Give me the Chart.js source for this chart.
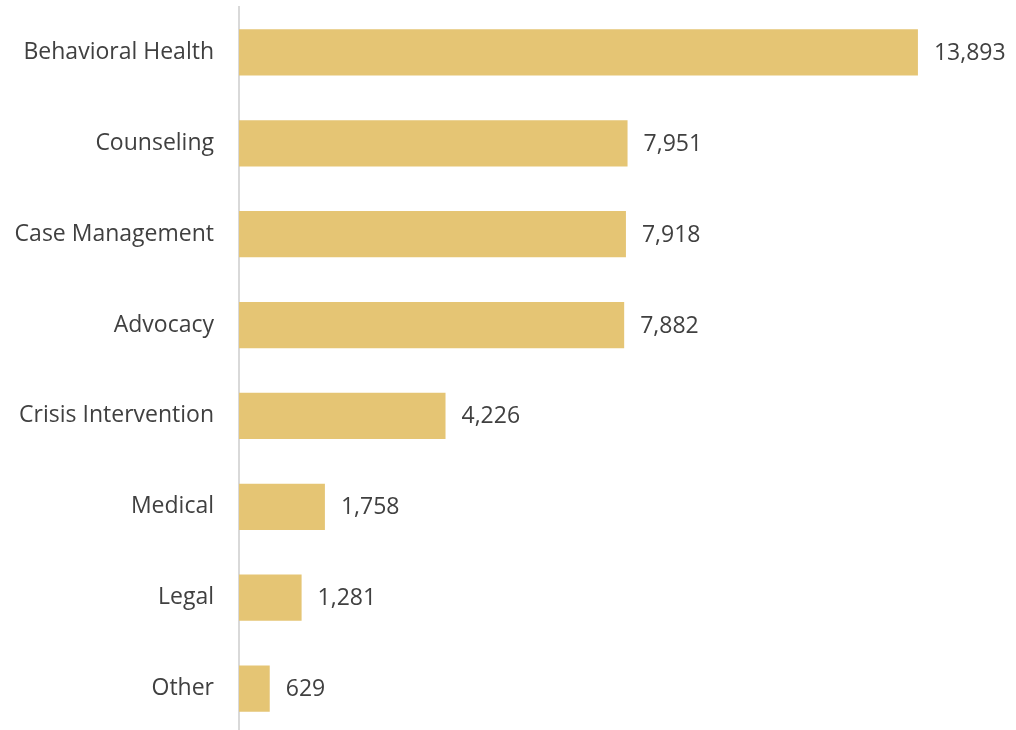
<!DOCTYPE html>
<html><head><meta charset="utf-8">
<script src="https://cdn.jsdelivr.net/npm/chart.js@4/dist/chart.umd.min.js"></script>
<style>html,body{margin:0;padding:0;background:#fff;overflow:hidden}canvas{display:block}</style>
</head><body><canvas id="c" width="1016" height="734"></canvas>
<script>
const categories = ["Behavioral Health","Counseling","Case Management","Advocacy","Crisis Intervention","Medical","Legal","Other"];
const values = [13893,7951,7918,7882,4226,1758,1281,629];
const FONT = "'Open Sans', sans-serif";
const labelPlugin = {
  id:'vals',
  afterDatasetsDraw(chart){
    const ctx = chart.ctx; const meta = chart.getDatasetMeta(0);
    ctx.save(); ctx.font = "23px " + FONT; ctx.fillStyle = "#404040";
    ctx.textAlign='left'; ctx.textBaseline='middle';
    meta.data.forEach((b,i)=>{ ctx.fillText(values[i].toLocaleString('en-US'), b.x + 16, b.y + 1); });
    ctx.restore();
  }
};
new Chart(document.getElementById('c'), {
  type:'bar',
  data:{labels:categories, datasets:[{data:values, backgroundColor:'#E5C574', borderWidth:0, barPercentage:0.51, categoryPercentage:1}]},
  options:{
    indexAxis:'y', responsive:false, maintainAspectRatio:false, animation:false,
    layout:{padding:{top:7,right:0,bottom:0,left:0}},
    plugins:{legend:{display:false}, tooltip:{enabled:false}},
    scales:{
      x:{display:false, min:0, max:15900},
      y:{
        afterFit(s){ s.width = 239; s.paddingTop = 0; s.paddingBottom = 0; },
        grid:{display:false, drawTicks:false},
        border:{display:true, color:'#D9D9D9', width:2},
        ticks:{padding:25, color:'#404040', font:{family:FONT, size:23}}
      }
    }
  },
  plugins:[labelPlugin]
});
</script></body></html>
